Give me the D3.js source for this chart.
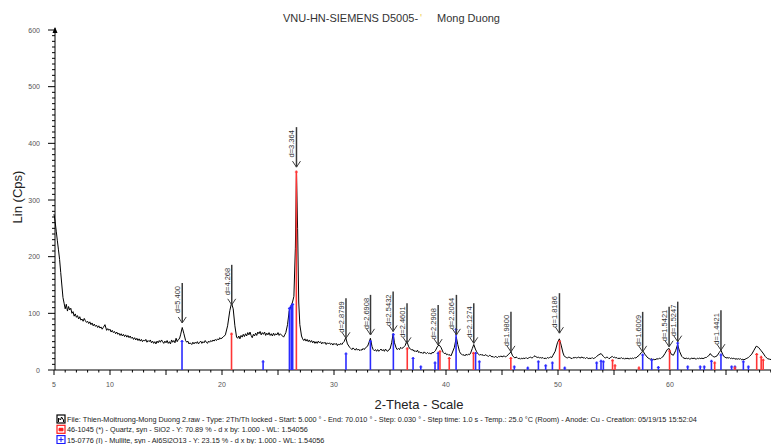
<!DOCTYPE html>
<html>
<head>
<meta charset="utf-8">
<script src="https://cdn.jsdelivr.net/npm/d3@7"></script>
<style>
	body { margin: 0; background: #fff; }
	text { font-family: "Liberation Sans", Arial, sans-serif; }
</style>
</head>
<body>
<div id="chart"></div>
<script>
// measured scan, pairs of [2-theta, Lin (Cps)]
var scan = [
	[5.00,275],[5.10,262],[5.20,245],[5.30,228],[5.40,212],[5.50,195],[5.60,172],[5.70,150],[5.80,128],[5.90,118],
	[6.00,108],[6.10,116],[6.20,104],[6.30,112],[6.40,106],[6.50,109],[6.60,100],[6.70,103],[6.80,95],[6.90,99],
	[7.00,93],[7.10,96],[7.20,90],[7.30,94],[7.40,88],[7.50,90],[7.60,86],[7.70,91],[7.80,87],[7.90,84],[8.00,86],[8.10,82],[8.20,85],
	[8.30,80],[8.40,83],[8.50,78],[8.60,81],[8.70,77],[8.80,79],[8.90,75],[9.00,78],[9.10,74],[9.20,76],[9.30,72],[9.40,75],[9.55,80],[9.70,70],[9.80,73],[9.90,70],[10.00,72],[10.10,67],
	[10.20,70],[10.30,66],[10.40,68],[10.50,64],[10.60,67],[10.70,63],[10.80,65],[10.90,61],[11.00,64],[11.10,60],[11.20,63],[11.30,59],[11.40,62],[11.50,58],[11.60,61],[11.70,57],[11.80,60],[11.90,56],[12.00,58],[12.10,54],
	[12.20,57],[12.30,53],[12.40,56],[12.50,52],[12.60,55],[12.70,51],[12.80,54],[12.90,50],[13.00,53],[13.10,51],[13.20,54],[13.30,49],[13.40,52],[13.50,50],[13.60,53],[13.70,48],[13.80,51],[13.90,47],[14.00,50],[14.10,46],
	[14.20,51],[14.30,48],[14.40,52],[14.50,49],[14.60,53],[14.70,50],[14.80,47],[14.90,51],[15.00,48],[15.10,52],[15.20,47],[15.30,50],[15.40,46],[15.50,53],[15.60,49],[15.70,52],[15.80,48],[15.90,56],[16.00,50],[16.10,54],
	[16.20,55],[16.30,62],[16.45,75],[16.60,64],[16.75,52],[16.85,49],[16.95,51],[17.05,46],[17.15,48],[17.30,45],[17.40,49],[17.50,46],[17.60,49],[17.70,47],[17.80,50],[17.90,46],
	[18.00,49],[18.10,51],[18.20,47],[18.30,50],[18.40,48],[18.50,52],[18.60,49],[18.70,47],[18.80,51],[18.90,49],[19.00,52],[19.10,50],[19.20,53],[19.30,51],[19.40,54],[19.50,52],[19.60,55],[19.70,53],[19.80,57],[19.90,55],
	[20.10,58],[20.30,62],[20.50,78],[20.70,105],[20.85,118],[21.00,108],[21.15,78],[21.30,58],[21.40,56],[21.50,60],[21.60,55],[21.70,61],
	[21.80,58],[21.90,63],[22.00,59],[22.10,64],[22.20,60],[22.30,66],[22.40,62],[22.50,67],[22.60,61],[22.70,57],[22.80,63],[22.90,60],[23.00,65],[23.10,61],[23.20,67],[23.30,64],[23.40,68],[23.50,62],[23.60,66],[23.70,63],
	[23.80,67],[23.90,61],[24.00,65],[24.10,62],[24.20,66],[24.30,61],[24.40,64],[24.50,60],[24.60,65],[24.70,61],[24.80,64],[24.90,62],[25.00,66],[25.10,61],[25.20,64],[25.30,62],[25.40,60],[25.50,58],[25.60,62],[25.70,66],
	[25.85,80],[26.00,104],[26.15,112],[26.30,120],[26.42,130],[26.55,215],[26.65,348],[26.75,250],[26.85,120],[26.95,80],
	[27.10,60],[27.20,55],[27.30,52],[27.40,55],[27.50,51],[27.60,54],[27.70,50],[27.80,53],[27.90,49],[28.00,52],[28.10,48],[28.20,51],[28.30,47],[28.40,50],[28.50,47],[28.60,51],[28.70,48],[28.80,50],[28.90,46],
	[29.00,49],[29.10,47],[29.20,49],[29.30,45],[29.40,48],[29.50,46],[29.60,48],[29.70,45],[29.80,47],[29.90,44],[30.00,47],[30.10,45],[30.20,47],[30.30,43],[30.40,46],[30.50,44],[30.60,47],[30.70,45],[30.80,48],[30.90,50],
	[31.05,57],[31.20,46],[31.40,40],[31.50,38],[31.60,36],[31.70,39],[31.80,37],[31.90,35],[32.00,38],[32.10,35],[32.20,37],[32.30,34],[32.40,36],[32.50,35],[32.60,38],[32.70,36],[32.80,39],
	[33.00,42],[33.15,50],[33.25,56],[33.40,41],[33.50,36],[33.60,34],[33.70,36],[33.80,33],[33.90,36],[34.00,33],[34.10,35],[34.20,37],[34.30,34],[34.40,36],[34.50,33],[34.60,37],
	[34.70,34],[34.80,33],[34.90,36],[35.00,37],[35.15,48],[35.28,64],[35.40,48],[35.55,39],[35.65,36],[35.75,38],[35.85,36],[35.95,40],[36.05,38],[36.15,39],[36.25,41],[36.35,43],
	[36.50,51],[36.65,42],[36.75,38],[36.85,37],[36.95,35],[37.05,36],[37.15,33],[37.25,34],[37.35,32],[37.45,35],[37.55,31],[37.65,32],[37.75,30],[37.85,31],[37.95,29],[38.05,32],[38.15,30],[38.25,29],
	[38.35,31],[38.45,29],[38.55,30],[38.65,28],[38.75,31],[38.85,30],[38.95,32],[39.05,34],[39.25,42],[39.40,44],[39.55,40],[39.75,31],[39.85,29],[39.95,30],[40.05,27],[40.15,28],
	[40.25,26],[40.35,27],[40.45,25],[40.55,30],[40.75,40],[40.92,58],[41.05,45],[41.20,33],[41.30,29],[41.40,28],[41.50,26],[41.60,27],[41.70,25],[41.80,28],[41.90,26],[42.00,28],
	[42.10,27],[42.20,30],[42.35,38],[42.48,45],[42.62,37],[42.72,33],[42.80,30],[42.90,28],[43.00,26],[43.10,28],[43.20,26],[43.30,27],[43.40,25],[43.50,27],[43.60,26],[43.70,25],[43.80,24],
	[43.90,26],[44.00,25],[44.10,23],[44.20,24],[44.30,22],[44.40,24],[44.50,23],[44.60,22],[44.70,24],[44.80,23],[44.90,25],[45.00,23],[45.10,24],[45.20,25],[45.30,23],[45.40,24],[45.60,28],[45.80,32],
	[45.95,25],[46.05,23],[46.15,21],[46.25,23],[46.35,22],[46.45,20],[46.55,21],[46.65,19],[46.75,21],[46.85,20],[46.95,21],[47.05,20],[47.15,22],[47.25,20],[47.35,21],[47.45,22],[47.55,23],[47.65,21],[47.75,22],
	[47.85,24],[47.95,25],[48.05,23],[48.15,22],[48.25,23],[48.35,21],[48.45,22],[48.55,21],[48.65,22],[48.75,20],[48.85,21],[48.95,20],[49.05,22],[49.15,21],[49.25,22],[49.35,23],[49.45,22],[49.55,26],[49.75,33],
	[49.95,48],[50.12,55],[50.28,44],[50.45,30],[50.55,25],[50.65,23],[50.75,22],[50.85,21],[50.95,23],[51.05,22],[51.15,21],[51.25,20],[51.35,22],[51.45,21],[51.55,23],[51.65,21],
	[51.75,22],[51.85,23],[51.95,21],[52.05,22],[52.15,23],[52.25,21],[52.35,22],[52.45,20],[52.55,22],[52.65,21],[52.75,20],[52.85,21],[52.95,20],[53.05,22],[53.15,20],[53.25,21],[53.35,22],[53.45,24],[53.65,27],
	[53.85,29],[54.05,24],[54.15,22],[54.25,21],[54.35,23],[54.45,22],[54.55,20],[54.65,21],[54.75,23],[54.85,24],[54.95,22],[55.05,23],[55.15,21],[55.25,22],[55.35,20],[55.45,21],[55.55,20],[55.65,22],
	[55.75,20],[55.85,21],[55.95,19],[56.05,21],[56.15,20],[56.25,21],[56.35,19],[56.45,21],[56.55,20],[56.65,21],[56.75,20],[56.85,22],[56.95,21],[57.05,23],[57.25,26],[57.45,31],[57.60,33],
	[57.75,28],[57.95,23],[58.05,21],[58.15,20],[58.25,19],[58.35,20],[58.45,18],[58.55,19],[58.65,18],[58.75,19],[58.85,20],[58.95,19],[59.05,21],[59.15,20],[59.25,22],[59.35,23],[59.55,29],
	[59.75,36],[59.92,38],[60.10,28],[60.30,26],[60.50,34],[60.68,45],[60.85,33],[61.05,24],[61.15,22],[61.25,21],[61.35,20],[61.45,21],[61.55,20],
	[61.65,21],[61.75,19],[61.85,20],[61.95,21],[62.05,20],[62.15,21],[62.25,20],[62.35,19],[62.45,21],[62.55,20],[62.65,21],[62.75,20],[62.85,21],[62.95,20],[63.05,21],[63.15,22],[63.25,22],[63.35,24],[63.45,25],
	[63.60,29],[63.70,26],[63.80,25],[63.90,23],[64.00,23],[64.10,24],[64.20,25],[64.40,31],[64.55,35],[64.70,28],[64.80,24],[64.90,23],[65.00,21],[65.10,22],[65.20,21],[65.30,22],
	[65.40,20],[65.50,21],[65.60,20],[65.70,21],[65.80,19],[65.90,20],[66.00,19],[66.10,20],[66.20,19],[66.30,20],[66.40,18],[66.50,19],[66.60,18],[66.70,19],[66.80,20],[66.90,21],[67.00,22],[67.10,24],[67.30,28],
	[67.50,35],[67.70,42],[67.90,40],[68.10,35],[68.30,30],[68.50,24],[68.70,20],[68.90,19],[69.10,18],[69.30,18],
	[69.50,17],[69.70,18],[70.00,17]
];

// reference pattern sticks: 46-1045 Quartz (red)
var quartzPos = [20.85, 26.64, 36.54, 39.46, 40.29, 42.45, 45.79, 50.14, 54.87, 55.09, 57.23, 59.96, 63.99, 65.79, 67.74, 68.14, 68.32];
var quartzInt = [66, 352, 40, 35, 23, 32, 23, 53, 19, 10, 6, 36, 15, 6, 30, 25, 20];

// 15-0776 Mullite (blue)
var mullitePos = [16.43, 23.67, 26.02, 26.18, 26.31, 31.07, 33.25, 35.30, 37.06, 37.75, 39.02, 39.30, 40.90, 42.64, 42.98,
	46.10, 47.30, 48.25, 48.90, 49.50, 50.60, 53.45, 53.84, 54.05, 57.56, 58.37, 58.96, 60.69, 61.58, 62.70, 63.06,
	63.70, 64.55, 65.50, 65.80, 66.55, 67.00];
var mulliteInt = [53, 17, 111, 115, 118, 31, 53, 65, 23, 8, 15, 32, 74, 32, 17,
	8, 6, 17, 10, 15, 6, 15, 18, 17, 29, 20, 7, 50, 8, 8, 8,
	18, 29, 8, 8, 17, 8];

// d-spacing labels on peaks
var peakPos = [16.45, 20.87, 26.65, 31.07, 33.26, 35.28, 36.52, 39.30, 40.93, 42.48, 45.80, 50.13, 57.56, 59.92, 60.69, 64.55];
var peakD = ["d=5.400", "d=4.268", "d=3.364", "d=2.8799", "d=2.6908", "d=2.5432", "d=2.4601", "d=2.2908",
	"d=2.2064", "d=2.1274", "d=1.9800", "d=1.8186", "d=1.6009", "d=1.5421", "d=1.5247", "d=1.4421"];
var peakTip = [83, 115, 358, 56, 62, 68, 47, 44, 62, 47, 32, 65, 32, 41, 50, 35];

var yTicks = [0, 100, 200, 300, 400, 500, 600];
var xTicks = [5, 10, 20, 30, 40, 50, 60];

var legendLines = [
	"File: Thien-Moitruong-Mong Duong 2.raw - Type: 2Th/Th locked - Start: 5.000 \u00b0 - End: 70.010 \u00b0 - Step: 0.030 \u00b0 - Step time: 1.0 s - Temp.: 25.0 \u00b0C (Room) - Anode: Cu - Creation: 05/19/15 15:52:04",
	"46-1045 (*) - Quartz, syn - SiO2 - Y: 70.89 % - d x by: 1.000 - WL: 1.54056",
	"15-0776 (I) - Mullite, syn - Al6Si2O13 - Y: 23.15 % - d x by: 1.000 - WL: 1.54056"
];
var legendColors = ["#000", "#ff1a1a", "#1a1aff"];

var width = 771, height = 444;

var svg = d3.select("#chart").append("svg")
	.attr("width", width)
	.attr("height", height);

var x = d3.scaleLinear().domain([5, 70]).range([54, 782]);
var y = d3.scaleLinear().domain([0, 600]).range([370, 30]);

// title
svg.append("text").attr("x", 283).attr("y", 22)
	.style("font-size", "11px").style("fill", "#333")
	.text("VNU-HN-SIEMENS D5005-");
svg.append("text").attr("x", 420).attr("y", 22)
	.style("font-size", "11px").style("fill", "#f0d060")
	.text("'");
svg.append("text").attr("x", 437).attr("y", 22)
	.style("font-size", "11px").style("fill", "#333")
	.text("Mong Duong");

// y axis
var yAxis = svg.append("g");
yAxis.append("line")
	.attr("x1", 55).attr("x2", 55).attr("y1", y(0)).attr("y2", y(600) - 2)
	.attr("stroke", "#000");
yAxis.append("path")
	.attr("d", "M52.5," + (y(600) + 3) + " L55," + (y(600) - 3) + " L57.5," + (y(600) + 3) + " Z")
	.attr("fill", "#000");
yAxis.selectAll(".ymin")
	.data(d3.range(0, 601, 10))
	.enter().append("line")
	.attr("x1", function(d){ return d % 100 == 0 ? 48 : 52; })
	.attr("x2", 55)
	.attr("y1", function(d){ return y(d); })
	.attr("y2", function(d){ return y(d); })
	.attr("stroke", "#000");
yAxis.selectAll(".ylab")
	.data(yTicks)
	.enter().append("text")
	.attr("x", 40).attr("y", function(d){ return y(d) + 2.5; })
	.attr("text-anchor", "end")
	.style("font-size", "7px").style("fill", "#555")
	.text(function(d){ return d; });

svg.append("text")
	.attr("transform", "translate(22,197) rotate(-90)")
	.attr("text-anchor", "middle")
	.style("font-size", "13px").style("fill", "#222")
	.text("Lin (Cps)");

// x axis
var xAxis = svg.append("g");
xAxis.append("line")
	.attr("x1", 55).attr("x2", width).attr("y1", 370).attr("y2", 370)
	.attr("stroke", "#000");
xAxis.selectAll(".xmin")
	.data(d3.range(5, 70, 1))
	.enter().append("line")
	.attr("x1", function(d){ return x(d); })
	.attr("x2", function(d){ return x(d); })
	.attr("y1", 370)
	.attr("y2", function(d){ return d % 5 == 0 ? 375 : 372.5; })
	.attr("stroke", "#000");
xAxis.selectAll(".xlab")
	.data(xTicks)
	.enter().append("text")
	.attr("x", function(d){ return x(d); }).attr("y", 387)
	.attr("text-anchor", "middle")
	.style("font-size", "7px").style("fill", "#555")
	.text(function(d){ return d; });

svg.append("text")
	.attr("x", 419).attr("y", 409)
	.attr("text-anchor", "middle")
	.style("font-size", "13px").style("fill", "#222")
	.text("2-Theta - Scale");

// scan curve
var line = d3.line()
	.x(function(d){ return x(d[0]); })
	.y(function(d){ return y(d[1]); });

svg.append("path")
	.datum(scan)
	.attr("d", line)
	.attr("fill", "none")
	.attr("stroke", "#000")
	.attr("stroke-width", 1);

// sticks
function drawSticks(pos, inten, col) {
	var g = svg.append("g");
	g.selectAll("line.stick")
		.data(pos)
		.enter().append("line")
		.attr("x1", function(d){ return x(d); })
		.attr("x2", function(d){ return x(d); })
		.attr("y1", y(0))
		.attr("y2", function(d, i){ return y(inten[i]); })
		.attr("stroke", col)
		.attr("stroke-width", 1.6);
	g.selectAll("line.cap")
		.data(pos)
		.enter().append("line")
		.attr("x1", function(d){ return x(d) - 1.5; })
		.attr("x2", function(d){ return x(d) + 1.5; })
		.attr("y1", function(d, i){ return y(inten[i]) + 1.5; })
		.attr("y2", function(d, i){ return y(inten[i]) + 1.5; })
		.attr("stroke", col)
		.attr("stroke-width", 1);
}
drawSticks(mullitePos, mulliteInt, "#2b2bff");
drawSticks(quartzPos, quartzInt, "#ff3535");

// d-value markers
var marks = svg.selectAll(".mark")
	.data(peakPos)
	.enter().append("g")
	.attr("class", "mark");

marks.append("line")
	.attr("x1", function(d){ return x(d); })
	.attr("x2", function(d){ return x(d); })
	.attr("y1", function(d, i){ return y(peakTip[i]); })
	.attr("y2", function(d, i){ return y(peakTip[i]) - 40; })
	.attr("stroke", "#3a3a3a")
	.attr("stroke-width", 1.5);

marks.append("path")
	.attr("d", function(d, i){
		var px = x(d), py = y(peakTip[i]);
		return "M" + (px - 4) + "," + (py - 6) + " L" + px + "," + py + " L" + (px + 4) + "," + (py - 6);
	})
	.attr("fill", "none")
	.attr("stroke", "#3a3a3a")
	.attr("stroke-width", 1);

marks.append("text")
	.attr("transform", function(d, i){
		return "translate(" + (x(d) - 2) + "," + (y(peakTip[i]) - 37) + ") rotate(-90)";
	})
	.attr("text-anchor", "end")
	.style("font-size", "7.5px").style("fill", "#333")
	.text(function(d, i){ return peakD[i]; });

// legend
var leg = svg.selectAll(".leg")
	.data(legendLines)
	.enter().append("g")
	.attr("class", "leg")
	.attr("transform", function(d, i){ return "translate(57," + (415 + i * 10.3) + ")"; });

leg.append("rect")
	.attr("x", 0).attr("y", 0).attr("width", 8).attr("height", 8)
	.attr("fill", "#fff")
	.attr("stroke", function(d, i){ return legendColors[i]; })
	.attr("stroke-width", 1.2);
leg.append("path")
	.attr("d", function(d, i){
		if (i == 0) return "M1.5,7 L1.5,3 L3.5,5 L4.5,2 L6.5,5 L6.5,7";
		if (i == 1) return "M2,3 L6,3 L6,5.5 L2,5.5 Z";
		return "M4,1.5 L4,6.5 M1.5,4 L6.5,4";
	})
	.attr("fill", function(d, i){ return i == 1 ? legendColors[i] : "none"; })
	.attr("stroke", function(d, i){ return legendColors[i]; })
	.attr("stroke-width", 1);
leg.append("text")
	.attr("x", 10).attr("y", 7)
	.style("font-size", "7.3px").style("fill", "#222")
	.text(function(d){ return d; });
</script>
</body>
</html>
